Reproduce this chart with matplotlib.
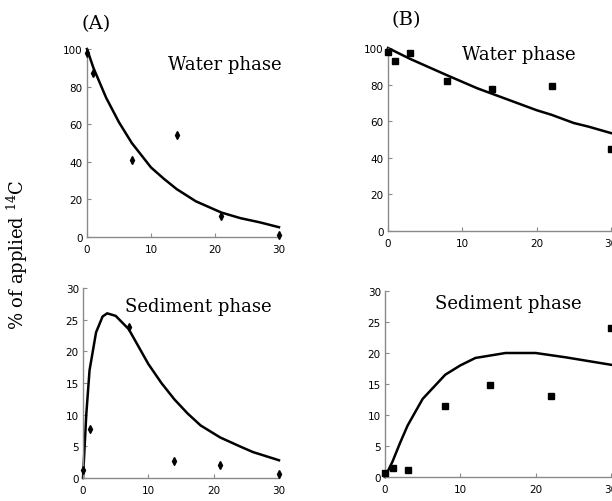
import matplotlib
matplotlib.use("Agg")
import matplotlib.pyplot as plt
from matplotlib import font_manager

# ---------------- data ----------------
days_a = [0, 1, 7, 14, 21, 30]
water_a = [98, 87, 41, 54, 11, 1]
sed_a = [1.2, 7.7, 23.8, 2.7, 2.0, 0.6]

fit_days_a_w = [0, 1, 2, 3, 5, 7, 10, 12, 14, 17, 20, 21, 24, 27, 30]
fit_water_a = [100, 90, 82, 74, 61, 50, 37, 31, 25.5, 19, 14.5, 13, 10, 7.8, 5.2]

fit_days_a_s = [0, 0.5, 1, 2, 3, 3.7, 5, 7, 10, 12, 14, 16, 18, 21, 24, 26, 30]
fit_sed_a = [0, 10, 17, 23, 25.5, 26, 25.6, 23.5, 18, 15, 12.4, 10.2, 8.3, 6.4, 5, 4.1, 2.8]

days_b = [0, 1, 3, 8, 14, 22, 30]
water_b = [98, 93, 97.5, 82, 77.5, 79, 45]
sed_b = [0.6, 1.5, 1.2, 11.5, 14.8, 13, 24.1]

fit_days_b_w = [0, 3, 8, 12, 14, 17, 20, 22, 25, 27, 30]
fit_water_b = [100, 94, 85, 78, 75, 70.5, 66, 63.5, 59, 57, 53.5]

fit_days_b_s = [0, 1, 2, 3, 5, 8, 10, 12, 14, 16, 18, 20, 24, 27, 30]
fit_sed_b = [0, 2.5, 5.5, 8.3, 12.6, 16.5, 18, 19.2, 19.6, 20, 20, 20, 19.3, 18.7, 18.1]

xticks = [0, 10, 20, 30]
yticks_water = [0, 20, 40, 60, 80, 100]
yticks_sed = [0, 5, 10, 15, 20, 25, 30]

# ---------------- fonts ----------------
avail = {f.name for f in font_manager.fontManager.ttflist}
tick_font = "Liberation Sans Narrow" if "Liberation Sans Narrow" in avail else "DejaVu Sans"
serif = "DejaVu Serif"
plt.rcParams['mathtext.fontset'] = 'custom'
plt.rcParams['mathtext.rm'] = serif

W, H = 612, 502
fig = plt.figure(figsize=(W / 100, H / 100), dpi=100)


def px_axes(left, right, top, bottom):
    return fig.add_axes([left / W, (H - bottom) / H, (right - left) / W, (bottom - top) / H])


def style(ax, yticks, ymax):
    ax.set_xlim(0, 30)
    ax.set_ylim(0, ymax)
    ax.set_xticks(xticks)
    ax.set_yticks(yticks)
    for s in ['top', 'right']:
        ax.spines[s].set_visible(False)
    for s in ['left', 'bottom']:
        ax.spines[s].set_color('#8a8a8a')
        ax.spines[s].set_linewidth(1.0)
    ax.tick_params(direction='in', length=3, width=0.8, color='#8a8a8a',
                   labelsize=7.5, pad=5)
    ax.tick_params(axis='y', pad=3)
    for lab in ax.get_xticklabels() + ax.get_yticklabels():
        lab.set_family(tick_font)
    ax.patch.set_visible(False)


def draw(ax, fx, fy, dx, dy, marker, ms):
    ax.plot(fx, fy, color='black', lw=1.8, clip_on=False, zorder=2)
    ax.plot(dx, dy, linestyle='none', marker=marker, color='black',
            markersize=ms, clip_on=False, zorder=3)


ax1 = px_axes(87, 279, 50, 238)
style(ax1, yticks_water, 100)
draw(ax1, fit_days_a_w, fit_water_a, days_a, water_a, 'd', 4)

ax2 = px_axes(83, 279, 289, 479)
style(ax2, yticks_sed, 30)
draw(ax2, fit_days_a_s, fit_sed_a, days_a, sed_a, 'd', 4)

ax3 = px_axes(388, 611, 49, 232)
style(ax3, yticks_water, 100)
draw(ax3, fit_days_b_w, fit_water_b, days_b, water_b, 's', 4)

ax4 = px_axes(385, 611, 292, 478)
style(ax4, yticks_sed, 30)
draw(ax4, fit_days_b_s, fit_sed_b, days_b, sed_b, 's', 4)


def ftext(x, y, s, **kw):
    fig.text(x / W, 1 - y / H, s, family=serif, **kw)


ftext(96, 24, "(A)", fontsize=14, ha='center', va='center')
ftext(406, 20, "(B)", fontsize=14, ha='center', va='center')
ftext(225, 65, "Water phase", fontsize=13, ha='center', va='center')
ftext(519, 55, "Water phase", fontsize=13, ha='center', va='center')
ftext(198, 307, "Sediment phase", fontsize=13, ha='center', va='center')
ftext(508, 304, "Sediment phase", fontsize=13, ha='center', va='center')
ftext(17, 255, r"% of applied $^{\mathrm{14}}$C", fontsize=13, ha='center',
      va='center', rotation=90)

fig.savefig("out.png", dpi=100)
